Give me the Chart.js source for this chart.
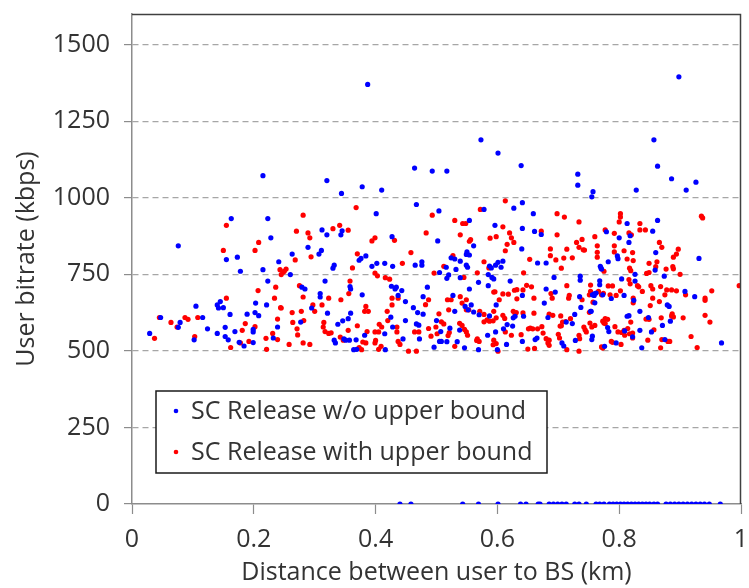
<!DOCTYPE html>
<html><head><meta charset="utf-8">
<script src="https://cdn.jsdelivr.net/npm/chart.js@4.4.1/dist/chart.umd.min.js"></script>
<style>html,body{margin:0;padding:0;background:#fff}#wrap{width:749px;height:588px;position:relative}</style>
</head><body><div id="wrap"><canvas id="c" width="749" height="588"></canvas></div>
<script>
const seriesNames = ["SC Release w/o upper bound", "SC Release with upper bound"];
const xTitle = "Distance between user to BS (km)";
const yTitle = "User bitrate (kbps)";
const xTickValues = [0, 0.2, 0.4, 0.6, 0.8, 1];
const xTickLabels = ["0", "0.2", "0.4", "0.6", "0.8", "1"];
const yTickValues = [0, 250, 500, 750, 1000, 1250, 1500];
const yTickLabels = ["0", "250", "500", "750", "1000", "1250", "1500"];

// Series 1 (blue): [distance km, bitrate kbps]
const blueSeries = [
[0.387,1370],[0.898,1395],[0.573,1189],[0.601,1146],[0.857,1189],[0.639,1105],
[0.215,1072],[0.163,932],[0.223,932],[0.228,869],[0.076,843],[0.155,798],[0.173,806],[0.178,760],[0.215,765],[0.241,791],[0.223,728],[0.105,646],[0.140,650],[0.142,640],[0.145,661],[0.150,641],[0.161,619],[0.203,656],[0.221,650],[0.189,620],[0.202,625],[0.208,615],[0.047,609],[0.079,593],[0.076,577],[0.116,609],[0.124,572],[0.153,577],[0.140,557],[0.029,557],[0.102,536],[0.153,547],[0.158,536],[0.169,563],[0.199,570],[0.199,562],[0.239,578],[0.176,528],[0.184,516],[0.199,527],[0.232,542],
[0.464,1097],[0.493,1087],[0.320,1056],[0.344,1014],[0.378,1036],[0.410,1025],[0.467,978],[0.504,957],[0.401,948],[0.312,895],[0.320,879],[0.345,892],[0.343,879],[0.427,873],[0.502,859],[0.289,838],[0.307,816],[0.311,828],[0.263,816],[0.376,802],[0.373,796],[0.384,810],[0.332,780],[0.330,770],[0.394,776],[0.402,786],[0.415,786],[0.428,776],[0.465,780],[0.476,791],[0.476,780],[0.260,749],[0.317,728],[0.284,702],[0.279,708],[0.358,710],[0.359,702],[0.426,711],[0.434,708],[0.432,702],[0.443,697],[0.485,708],[0.309,687],[0.309,676],[0.378,683],[0.437,681],[0.478,677],[0.295,640],[0.321,623],[0.359,623],[0.425,610],[0.449,661],[0.462,641],[0.469,625],[0.478,620],[0.338,587],[0.346,598],[0.355,605],[0.277,594],[0.449,599],[0.428,578],[0.467,588],[0.471,584],[0.500,599],[0.332,535],[0.334,526],[0.348,539],[0.351,535],[0.357,535],[0.368,536],[0.382,551],[0.415,556],[0.445,539],[0.472,539],[0.505,531],[0.364,504],[0.416,504],[0.496,512],[0.369,505],
[0.517,1087],[0.732,1077],[0.732,1041],[0.755,1003],[0.641,984],[0.627,966],[0.578,962],[0.659,948],[0.554,926],[0.596,910],[0.641,900],[0.661,890],[0.672,880],[0.561,843],[0.550,823],[0.549,815],[0.554,813],[0.640,833],[0.524,804],[0.530,800],[0.539,793],[0.601,789],[0.597,780],[0.606,773],[0.609,793],[0.549,780],[0.551,773],[0.587,777],[0.590,771],[0.666,787],[0.680,787],[0.516,773],[0.532,766],[0.505,756],[0.517,737],[0.520,748],[0.539,739],[0.585,749],[0.591,740],[0.594,735],[0.693,740],[0.736,744],[0.736,731],[0.621,728],[0.569,724],[0.585,713],[0.554,702],[0.680,702],[0.756,683],[0.695,692],[0.527,681],[0.547,645],[0.557,650],[0.552,634],[0.641,681],[0.735,677],[0.677,656],[0.598,650],[0.737,642],[0.753,629],[0.530,629],[0.561,627],[0.570,618],[0.587,614],[0.616,586],[0.626,608],[0.629,613],[0.643,613],[0.683,609],[0.727,619],[0.713,594],[0.723,589],[0.625,581],[0.538,568],[0.522,574],[0.507,563],[0.517,530],[0.534,530],[0.584,551],[0.597,562],[0.610,572],[0.662,537],[0.665,542],[0.615,521],[0.641,531],[0.706,526],[0.709,516],[0.728,534],[0.546,510],[0.569,504],[0.600,504],[0.508,531],[0.755,537],[0.756,548],
[0.863,1103],[0.886,1062],[0.926,1051],[0.910,1025],[0.828,1025],[0.757,1020],[0.863,926],[0.813,916],[0.855,891],[0.779,889],[0.818,876],[0.800,869],[0.816,854],[0.860,821],[0.797,810],[0.798,801],[0.931,802],[0.782,791],[0.769,776],[0.771,767],[0.770,771],[0.859,764],[0.826,750],[0.874,744],[0.804,735],[0.826,728],[0.768,729],[0.768,716],[0.759,686],[0.759,681],[0.762,689],[0.773,683],[0.787,671],[0.808,681],[0.908,694],[0.924,677],[0.760,657],[0.754,629],[0.824,665],[0.879,650],[0.882,645],[0.834,629],[0.813,613],[0.816,615],[0.848,609],[0.884,597],[0.871,583],[0.781,576],[0.783,563],[0.809,565],[0.834,567],[0.853,562],[0.822,546],[0.875,537],[0.795,526],[0.776,515],[0.837,510],[0.968,526],
[0.440,0],[0.458,0],[0.543,0],[0.569,0],[0.601,0],[0.638,0],[0.647,0],[0.667,0],[0.670,0],[0.685,0],[0.692,0],[0.699,0],[0.706,0],[0.713,0],[0.727,0],[0.734,0],[0.746,0],[0.762,0],[0.768,0],[0.775,0],[0.784,0],[0.790,0],[0.796,0],[0.802,0],[0.808,0],[0.814,0],[0.820,0],[0.826,0],[0.832,0],[0.838,0],[0.844,0],[0.850,0],[0.857,0],[0.863,0],[0.877,0],[0.884,0],[0.891,0],[0.898,0],[0.905,0],[0.912,0],[0.919,0],[0.926,0],[0.933,0],[0.940,0],[0.948,0],[0.966,0]
];

// Series 2 (red): [distance km, bitrate kbps]
const redSeries = [
[0.155,910],[0.150,828],[0.208,854],[0.202,828],[0.243,765],[0.248,757],[0.155,672],[0.207,697],[0.236,708],[0.234,672],[0.244,641],[0.045,609],[0.064,593],[0.074,578],[0.087,609],[0.092,603],[0.108,609],[0.037,541],[0.103,547],[0.202,579],[0.186,589],[0.181,567],[0.239,604],[0.231,557],[0.220,541],[0.239,537],[0.162,511],[0.178,526],[0.192,531],[0.221,505],
[0.368,968],[0.281,943],[0.493,943],[0.270,891],[0.289,885],[0.292,869],[0.330,899],[0.341,910],[0.355,894],[0.394,859],[0.399,869],[0.431,861],[0.483,885],[0.268,797],[0.294,807],[0.370,817],[0.458,821],[0.362,771],[0.444,786],[0.245,749],[0.250,760],[0.253,767],[0.399,754],[0.403,745],[0.416,739],[0.423,734],[0.358,728],[0.496,754],[0.275,713],[0.281,676],[0.356,687],[0.323,672],[0.343,667],[0.297,650],[0.312,650],[0.384,645],[0.388,629],[0.427,650],[0.427,672],[0.437,672],[0.482,651],[0.487,667],[0.245,640],[0.300,629],[0.263,625],[0.278,629],[0.382,629],[0.419,629],[0.264,593],[0.282,599],[0.315,593],[0.314,578],[0.317,563],[0.323,557],[0.327,559],[0.271,572],[0.272,552],[0.370,582],[0.355,567],[0.386,563],[0.406,587],[0.410,578],[0.405,562],[0.399,562],[0.420,599],[0.435,578],[0.435,562],[0.464,562],[0.471,562],[0.487,573],[0.499,578],[0.258,521],[0.281,526],[0.292,521],[0.342,545],[0.347,535],[0.379,529],[0.384,526],[0.400,534],[0.399,526],[0.437,531],[0.440,521],[0.491,548],[0.373,511],[0.377,504],[0.405,505],[0.454,499],[0.467,499],[0.409,515],
[0.613,990],[0.572,962],[0.698,948],[0.710,937],[0.734,921],[0.530,926],[0.548,916],[0.543,916],[0.609,905],[0.539,879],[0.556,863],[0.554,858],[0.588,868],[0.598,873],[0.620,885],[0.623,869],[0.627,854],[0.616,848],[0.672,891],[0.698,879],[0.739,864],[0.730,854],[0.734,838],[0.741,830],[0.743,829],[0.687,833],[0.687,811],[0.714,832],[0.653,799],[0.696,797],[0.709,803],[0.705,770],[0.723,804],[0.527,811],[0.578,791],[0.613,827],[0.512,776],[0.586,771],[0.545,740],[0.567,755],[0.643,755],[0.656,709],[0.648,714],[0.632,700],[0.628,698],[0.714,713],[0.618,685],[0.594,692],[0.596,693],[0.609,686],[0.642,699],[0.688,687],[0.718,681],[0.717,672],[0.518,667],[0.524,667],[0.539,677],[0.549,667],[0.542,656],[0.553,634],[0.549,634],[0.603,667],[0.632,670],[0.660,672],[0.690,672],[0.739,667],[0.504,621],[0.520,634],[0.571,629],[0.578,619],[0.578,595],[0.583,601],[0.587,597],[0.593,598],[0.598,608],[0.594,629],[0.609,616],[0.612,606],[0.626,629],[0.629,621],[0.631,625],[0.642,624],[0.660,623],[0.654,574],[0.673,579],[0.685,620],[0.691,616],[0.704,614],[0.705,582],[0.707,594],[0.720,605],[0.742,578],[0.752,591],[0.508,595],[0.512,588],[0.538,590],[0.542,583],[0.546,570],[0.549,562],[0.551,551],[0.521,560],[0.519,550],[0.501,556],[0.566,534],[0.570,531],[0.594,535],[0.598,524],[0.623,551],[0.613,562],[0.651,572],[0.658,572],[0.666,572],[0.675,558],[0.680,540],[0.685,535],[0.683,526],[0.703,581],[0.700,554],[0.702,542],[0.712,596],[0.734,551],[0.735,540],[0.746,562],[0.744,569],[0.530,515],[0.650,506],[0.661,508],[0.601,499],[0.685,518],[0.714,504],[0.734,499],[0.567,539],[0.593,520],[0.639,553],
[0.802,948],[0.802,937],[0.800,921],[0.935,940],[0.937,934],[0.777,895],[0.792,884],[0.760,873],[0.816,885],[0.820,879],[0.834,916],[0.834,895],[0.843,895],[0.866,854],[0.870,838],[0.764,843],[0.764,822],[0.764,806],[0.792,843],[0.792,823],[0.808,827],[0.822,821],[0.897,832],[0.894,816],[0.889,806],[0.813,800],[0.823,795],[0.862,791],[0.860,775],[0.849,786],[0.817,770],[0.819,762],[0.845,753],[0.849,756],[0.877,767],[0.888,775],[0.889,768],[0.900,750],[0.775,760],[0.753,715],[0.753,694],[0.782,712],[0.789,712],[0.832,709],[0.830,713],[0.818,719],[0.816,733],[0.838,694],[0.852,713],[0.855,702],[0.868,710],[0.878,699],[0.875,683],[0.886,699],[0.894,696],[0.909,683],[0.941,672],[0.941,665],[0.952,696],[0.997,713],[0.751,683],[0.757,659],[0.771,683],[0.774,688],[0.766,694],[0.785,683],[0.795,681],[0.802,696],[0.823,672],[0.823,657],[0.855,672],[0.866,661],[0.851,648],[0.751,626],[0.760,583],[0.755,578],[0.777,605],[0.781,603],[0.775,591],[0.793,579],[0.798,562],[0.804,560],[0.808,567],[0.814,573],[0.809,551],[0.819,594],[0.822,558],[0.844,604],[0.849,603],[0.857,569],[0.869,608],[0.887,621],[0.886,614],[0.889,611],[0.905,608],[0.918,547],[0.941,616],[0.949,594],[0.847,535],[0.870,537],[0.880,531],[0.883,531],[0.803,521],[0.787,531],[0.789,528],[0.773,509],[0.771,513],[0.868,510],[0.928,511],[0.822,542],[0.817,556],[0.773,597],[0.777,589]
];

const seriesColors = ["#0000FF", "#FF0000"];
const FONT = "'Open Sans', Lato, sans-serif";
const TEXT = "#333333";

const frameAndLegend = {
  id: 'frameAndLegend',
  afterDraw(chart) {
    const {ctx, chartArea: a} = chart;
    ctx.save();
    // top and right frame
    ctx.strokeStyle = '#404040';
    ctx.lineWidth = 1.5;
    ctx.beginPath();
    ctx.moveTo(a.left, a.top + 0.5);
    ctx.lineTo(a.right - 0.5, a.top + 0.5);
    ctx.lineTo(a.right - 0.5, a.bottom);
    ctx.stroke();
    // legend box
    const bx = a.left + 24, by = 391, bw = 391, bh = 82;
    ctx.fillStyle = '#ffffff';
    ctx.fillRect(bx, by, bw, bh);
    ctx.strokeStyle = '#1a1a1a';
    ctx.lineWidth = 1.5;
    ctx.strokeRect(bx, by, bw, bh);
    ctx.font = "25px " + FONT;
    ctx.textBaseline = 'middle';
    ctx.textAlign = 'left';
    const rows = [by + 20, by + 61];
    chart.data.datasets.forEach((ds, i) => {
      ctx.fillStyle = ds.backgroundColor;
      ctx.beginPath();
      ctx.arc(bx + 20, rows[i], 2.3, 0, Math.PI * 2);
      ctx.fill();
      ctx.fillStyle = TEXT;
      ctx.fillText(ds.label, bx + 35, rows[i] + 1);
    });
    ctx.restore();
  }
};

const ctx = document.getElementById('c').getContext('2d');
new Chart(ctx, {
  type: 'scatter',
  data: {
    datasets: [
      { label: seriesNames[0], data: blueSeries.map(p => ({x: p[0], y: p[1]})), backgroundColor: seriesColors[0], borderWidth: 0, pointRadius: 2.6 },
      { label: seriesNames[1], data: redSeries.map(p => ({x: p[0], y: p[1]})), backgroundColor: seriesColors[1], borderWidth: 0, pointRadius: 2.6 }
    ]
  },
  options: {
    responsive: false,
    animation: false,
    devicePixelRatio: 1,
    layout: { padding: { top: 14, right: 8, left: 0, bottom: 0 } },
    plugins: { legend: { display: false }, tooltip: { enabled: false } },
    scales: {
      x: {
        type: 'linear', min: 0, max: 1,
        afterBuildTicks: s => { s.ticks = xTickValues.map(v => ({value: v})); },
        afterFit: s => { s.height = 84; s.paddingLeft = 0; s.paddingRight = 0; },
        ticks: { callback: (v) => xTickLabels[xTickValues.indexOf(v)], color: TEXT, font: { family: FONT, size: 25 }, padding: 11, maxRotation: 0 },
        grid: { drawOnChartArea: false, drawTicks: true, tickLength: 10, tickColor: '#8c8c8c', tickWidth: 1.2 },
        border: { display: true, color: '#8c8c8c', width: 1.5 },
        title: { display: true, text: xTitle, color: TEXT, font: { family: FONT, size: 25 }, padding: { top: 0, bottom: 0 } }
      },
      y: {
        type: 'linear', min: 0, max: 1600,
        afterBuildTicks: s => { s.ticks = yTickValues.map(v => ({value: v})); },
        afterFit: s => { s.width = 132; s.paddingTop = 0; s.paddingBottom = 0; },
        ticks: { callback: (v) => yTickLabels[yTickValues.indexOf(v)], color: TEXT, font: { family: FONT, size: 25 }, padding: 14 },
        grid: {
          drawTicks: true, tickLength: 8, tickColor: '#8c8c8c', tickWidth: 1.2, tickBorderDash: [],
          color: c => (c.tick && c.tick.value === 0) ? 'rgba(0,0,0,0)' : '#a6a6a6', lineWidth: 1.2
        },
        border: { display: true, color: '#8c8c8c', width: 1.5, dash: [6, 4] },
        title: { display: true, text: yTitle, color: TEXT, font: { family: FONT, size: 25 }, padding: { top: 12, bottom: 0 } }
      }
    }
  },
  plugins: [frameAndLegend]
});
</script>
</body></html>
